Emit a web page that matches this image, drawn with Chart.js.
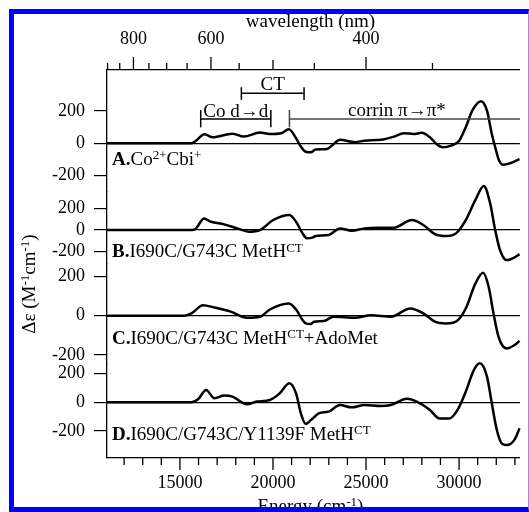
<!DOCTYPE html>
<html>
<head>
<meta charset="utf-8">
<script src="https://cdn.jsdelivr.net/npm/chart.js@4.4.1/dist/chart.umd.min.js"></script>
<style>
  html, body { margin: 0; padding: 0; background: #fff; overflow: hidden; }
  #wrap { position: relative; width: 529px; height: 512px; }
  #frame { position: absolute; left: 9px; top: 9px; width: 520px; height: 503px; box-sizing: border-box;
           border: 5px solid #0000ff; border-right: 1px solid #8c8cff; pointer-events: none; }
</style>
</head>
<body>
<div id="wrap"><canvas id="mcd"></canvas><div id="frame"></div></div>
<script>
// --- data (energy in cm-1, delta epsilon in M-1 cm-1) ---
const energyA = [11080, 13300, 15620, 15800, 16330, 16760, 17820, 18430, 19300, 19830, 20450, 20850, 21240, 21500, 21760, 22030, 22290, 22900, 23170, 23600, 24400, 24920, 25800, 26500, 27030, 27550, 27990, 28430, 28780, 29130, 29570, 30010, 30360, 30710, 31180, 31500, 31760, 31940, 32150, 32380, 32730, 33250];
const deltaA  = [0, 0, 0, 10, 55, 37, 59, 41, 66, 57, 62, 86, 31, -21, -52, -56, -39, -35, -14, 21, 7, 16, 21, 41, 62, 57, 64, 37, -4, -24, -14, 16, 99, 201, 259, 201, 57, -24, -106, -132, -123, -97];

const energyB = [11080, 15450, 15800, 16290, 16670, 17380, 18080, 18700, 19300, 20010, 20880, 21240, 21590, 21820, 22120, 22290, 22990, 23600, 24220, 24920, 25620, 26500, 27460, 28080, 28700, 29300, 29830, 30360, 30880, 31330, 31670, 31940, 32200, 32550, 32990, 33250];
const deltaB  = [0, 0, 5, 107, 76, 52, 15, -15, 0, 92, 138, 76, -31, -76, -70, -55, -46, 15, -6, 15, 21, 21, 92, 46, -37, -55, -31, 92, 277, 406, 246, 0, -184, -277, -252, -222];

const energyC = [11080, 15270, 15620, 16240, 16850, 17730, 18600, 19300, 19830, 20850, 21240, 21590, 21760, 22030, 22200, 22730, 23250, 24400, 25270, 26330, 27380, 28080, 28700, 29300, 29830, 30360, 30880, 31290, 31590, 31850, 32120, 32550, 32990, 33250];
const deltaC  = [0, 0, 12, 54, 42, 21, -10, -5, 32, 63, 32, -22, -39, -42, -30, -27, -5, -10, 3, -5, 37, 12, -30, -39, -30, 37, 165, 219, 148, 12, -107, -167, -149, -128];

const energyD = [11080, 15620, 15970, 16410, 16850, 17380, 17820, 18600, 19130, 19830, 20360, 20880, 21240, 21500, 21760, 22030, 22200, 22460, 22990, 23600, 24220, 24920, 25800, 26330, 27200, 27900, 28430, 28950, 29480, 29920, 30360, 30800, 31120, 31500, 31760, 32030, 32290, 32550, 32990, 33250];
const deltaD  = [0, 0, 21, 86, 28, 47, 40, -14, 5, 16, 62, 133, 62, -77, -150, -124, -105, -77, -65, -19, -35, -19, -26, -19, 24, -7, -53, -112, -112, -53, 74, 226, 272, 179, -7, -193, -286, -298, -258, -181];

const energyTicks = [12000, 13000, 14000, 15000, 16000, 17000, 18000, 19000, 20000, 21000, 22000, 23000, 24000, 25000, 26000, 27000, 28000, 29000, 30000, 31000, 32000, 33000];
const energyLabels = [15000, 20000, 25000, 30000];
const wavelengthTicks = [900, 850, 800, 750, 700, 650, 600, 550, 500, 450, 400, 350];
const wavelengthLabels = [800, 600, 400];
const yTicks = [-200, 0, 200];

const FONT = "'Liberation Serif', 'Times New Roman', serif";
const tickFont = { family: FONT, size: 18 };

function panelAxis(min, max, weight) {
  return {
    type: 'linear', position: 'left', stack: 'panels', stackWeight: weight, min, max,
    afterBuildTicks: s => { s.ticks = yTicks.map(v => ({ value: v })); },
    afterFit: s => { s.width = 107; },
    ticks: { font: tickFont, color: '#000', padding: 9, autoSkip: false, callback: v => String(v) },
    grid: {
      drawOnChartArea: true, drawTicks: true, tickLength: 13, lineWidth: 1.2, tickColor: '#000',
      color: c => (c.tick && c.tick.value === 0) ? '#000' : 'rgba(0,0,0,0)'
    },
    border: { display: true, color: '#000', width: 1.3 }
  };
}

function series(xs, ys, axis) {
  return {
    data: xs.map((e, i) => ({ x: e, y: ys[i] })), yAxisID: axis, xAxisID: 'x',
    borderColor: '#000', borderWidth: 2.5, pointRadius: 0, cubicInterpolationMode: 'monotone', clip: false
  };
}

function segFont(s, size) {
  return (s.bold ? 'bold ' : '') + (s.sup ? Math.round(size * 0.68) : size) + 'px ' + FONT;
}
function drawRich(ctx, segs, x, y, size, align) {
  let w = 0;
  segs.forEach(s => { ctx.font = segFont(s, size); w += ctx.measureText(s.t).width; });
  let cx = align === 'center' ? x - w / 2 : x;
  ctx.textAlign = 'left';
  ctx.textBaseline = 'alphabetic';
  segs.forEach(s => {
    ctx.font = segFont(s, size);
    ctx.fillText(s.t, cx, s.sup ? y - size * 0.3 : y);
    cx += ctx.measureText(s.t).width;
  });
}

const decor = {
  id: 'decor',
  afterDraw(chart) {
    const { ctx, chartArea: area } = chart;
    const x = chart.scales.x, x2 = chart.scales.x2, yA = chart.scales.yA;
    ctx.save();
    ctx.strokeStyle = '#000';
    ctx.fillStyle = '#000';
    ctx.lineWidth = 1.3;
    const line = (a, b, c, d) => { ctx.beginPath(); ctx.moveTo(a, b); ctx.lineTo(c, d); ctx.stroke(); };

    // tick marks, bottom (energy) and top (wavelength)
    energyTicks.forEach(v => {
      const px = x.getPixelForValue(v);
      line(px, area.bottom, px, area.bottom + (energyLabels.includes(v) ? 12 : 7));
    });
    wavelengthTicks.forEach(l => {
      const px = x2.getPixelForValue(1e7 / l);
      const len = wavelengthLabels.includes(l) ? 13 : (l === 500 ? 10 : 7);
      line(px, area.top, px, area.top - len);
    });

    // band brackets, placed in panel A units
    const bracket = (e1, e2, v, vTop, vBot) => {
      const p1 = x.getPixelForValue(e1), p2 = Math.min(x.getPixelForValue(e2), area.right);
      const py = yA.getPixelForValue(v);
      line(p1, py, p2, py);
      line(p1, yA.getPixelForValue(vTop), p1, yA.getPixelForValue(vBot));
      if (e2 < x.max) line(p2, yA.getPixelForValue(vTop), p2, yA.getPixelForValue(vBot));
    };
    ctx.lineWidth = 1.5;
    bracket(18300, 21670, 308, 345, 267);
    bracket(16116, 19884, 150, 205, 98);
    ctx.strokeStyle = '#444';
    bracket(20884, x.max + 100, 150, 205, 98);

    drawRich(ctx, [{ t: 'CT' }], x.getPixelForValue(19985), yA.getPixelForValue(328), 19, 'center');
    drawRich(ctx, [{ t: 'Co d\u2192d' }], x.getPixelForValue(18000), yA.getPixelForValue(162), 19, 'center');
    drawRich(ctx, [{ t: 'corrin \u03c0\u2192\u03c0*' }], x.getPixelForValue(26658), yA.getPixelForValue(168), 19, 'center');

    // panel labels
    const lx = area.left + 5;
    drawRich(ctx, [{ t: 'A.', bold: true }, { t: 'Co' }, { t: '2+', sup: true }, { t: 'Cbi' }, { t: '+', sup: true }],
      lx, yA.getPixelForValue(-134), 19);
    drawRich(ctx, [{ t: 'B.', bold: true }, { t: 'I690C/G743C MetH' }, { t: 'CT', sup: true }],
      lx, chart.scales.yB.getPixelForValue(-252), 19);
    drawRich(ctx, [{ t: 'C.', bold: true }, { t: 'I690C/G743C MetH' }, { t: 'CT', sup: true }, { t: '+AdoMet' }],
      lx, chart.scales.yC.getPixelForValue(-144), 19);
    drawRich(ctx, [{ t: 'D.', bold: true }, { t: 'I690C/G743C/Y1139F MetH' }, { t: 'CT', sup: true }],
      lx, chart.scales.yD.getPixelForValue(-263), 19);

    // axis titles
    const midX = (area.left + area.right) / 2 - 3;
    drawRich(ctx, [{ t: 'wavelength (nm)' }], midX, 26.5, 19, 'center');
    drawRich(ctx, [{ t: 'Energy (cm' }, { t: '-1', sup: true }, { t: ')' }], midX, 512, 19, 'center');
    ctx.translate(35, 284);
    ctx.rotate(-Math.PI / 2);
    drawRich(ctx, [{ t: '\u0394\u03b5 (M' }, { t: '-1', sup: true }, { t: 'cm' }, { t: '-1', sup: true }, { t: ')' }], 0, 0, 19, 'center');
    ctx.restore();
  }
};

new Chart(document.getElementById('mcd'), {
  type: 'line',
  data: {
    datasets: [
      series(energyA, deltaA, 'yA'),
      series(energyB, deltaB, 'yB'),
      series(energyC, deltaC, 'yC'),
      series(energyD, deltaD, 'yD')
    ]
  },
  options: {
    responsive: true, maintainAspectRatio: false, animation: false, events: [],
    layout: { padding: 0 },
    plugins: { legend: { display: false }, tooltip: { enabled: false } },
    scales: {
      x: {
        type: 'linear', position: 'bottom', min: 11080, max: 33270,
        afterBuildTicks: s => { s.ticks = energyTicks.map(v => ({ value: v })); },
        afterFit: s => { s.height = 54; },
        ticks: { font: tickFont, color: '#000', padding: 14, autoSkip: false, maxRotation: 0,
                 callback: v => energyLabels.includes(v) ? String(v) : '' },
        grid: { display: false, drawTicks: false },
        border: { display: true, color: '#000', width: 1.3 }
      },
      x2: {
        type: 'linear', position: 'top', min: 11080, max: 33270,
        afterBuildTicks: s => { s.ticks = wavelengthTicks.map(l => ({ value: 1e7 / l })); },
        afterFit: s => { s.height = 70; },
        ticks: { font: tickFont, color: '#000', padding: 20, autoSkip: false, maxRotation: 0,
                 callback: v => { const l = Math.round(1e7 / v); return wavelengthLabels.includes(l) ? String(l) : ''; } },
        grid: { display: false, drawTicks: false },
        border: { display: true, color: '#000', width: 1.3 }
      },
      yD: panelAxis(-388, 267, 94),
      yC: panelAxis(-246, 264, 100),
      yB: panelAxis(-313, 350, 72),
      yA: panelAxis(-300, 451, 122)
    }
  },
  plugins: [decor]
});
</script>
</body>
</html>
